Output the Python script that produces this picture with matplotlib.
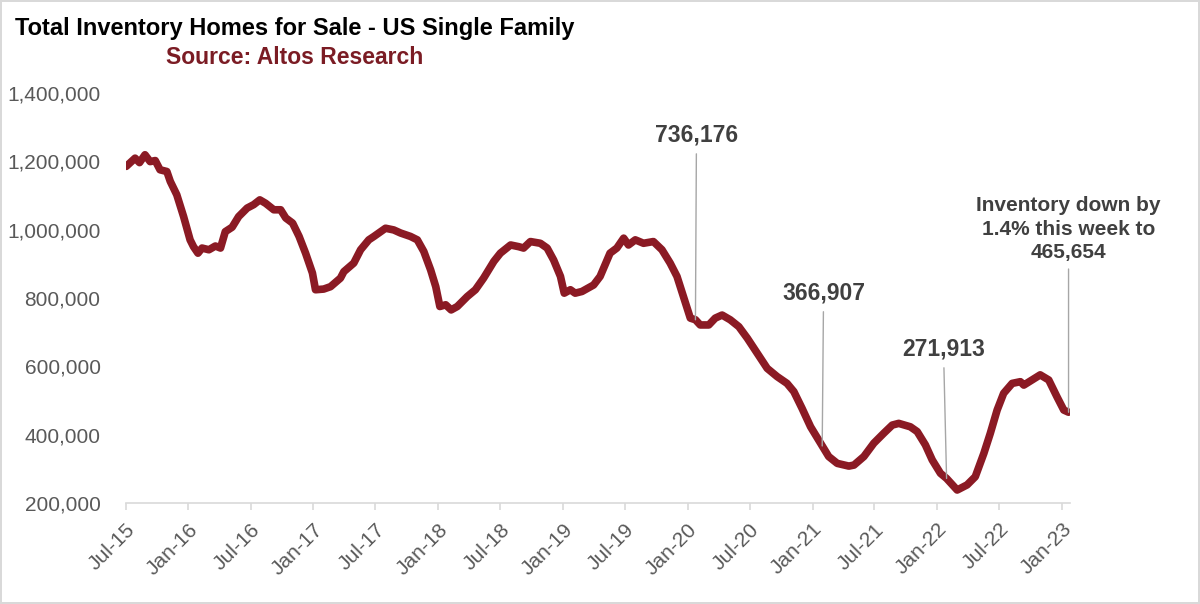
import matplotlib
matplotlib.use("Agg")
import matplotlib.pyplot as plt
import matplotlib.dates as mdates
from matplotlib.ticker import FuncFormatter
import pandas as pd

plt.rcParams["font.family"] = ["Liberation Sans", "DejaVu Sans"]

# weekly-ish inventory readings
dates = ["2015-07-03", "2015-07-29", "2015-08-11", "2015-08-27", "2015-09-11", "2015-09-26",
         "2015-10-10", "2015-10-30", "2015-11-09", "2015-11-28", "2015-12-18", "2016-01-06",
         "2016-01-16", "2016-01-29", "2016-02-10", "2016-03-01", "2016-03-20", "2016-04-04",
         "2016-04-18", "2016-05-08", "2016-05-27", "2016-06-21", "2016-07-10", "2016-07-28",
         "2016-08-14", "2016-09-07", "2016-09-27", "2016-10-12", "2016-11-01", "2016-11-20",
         "2016-12-09", "2016-12-29", "2017-01-07", "2017-01-31", "2017-02-20", "2017-03-21",
         "2017-03-31", "2017-04-29", "2017-05-19", "2017-06-12", "2017-06-27", "2017-07-31",
         "2017-08-24", "2017-09-13", "2017-10-12", "2017-11-01", "2017-11-20", "2017-12-10",
         "2017-12-25", "2018-01-06", "2018-01-23", "2018-02-08", "2018-02-26", "2018-03-27",
         "2018-04-20", "2018-05-14", "2018-06-13", "2018-07-02", "2018-08-01", "2018-08-25",
         "2018-09-08", "2018-09-28", "2018-10-27", "2018-11-16", "2018-12-05", "2018-12-25",
         "2019-01-05", "2019-01-23", "2019-02-06", "2019-02-26", "2019-04-01", "2019-04-20",
         "2019-05-19", "2019-06-08", "2019-06-28", "2019-07-12", "2019-08-01", "2019-08-25",
         "2019-09-23", "2019-10-18", "2019-11-11", "2019-12-01", "2019-12-20", "2020-01-09",
         "2020-01-24", "2020-02-07", "2020-03-03", "2020-03-22", "2020-04-11", "2020-05-05",
         "2020-05-30", "2020-06-24", "2020-07-23", "2020-08-21", "2020-09-19", "2020-10-18",
         "2020-11-07", "2020-12-01", "2020-12-26", "2021-01-29", "2021-02-17", "2021-03-14",
         "2021-04-17", "2021-05-02", "2021-05-31", "2021-06-29", "2021-07-28", "2021-08-22",
         "2021-09-10", "2021-10-14", "2021-11-03", "2021-11-27", "2021-12-17", "2022-01-10",
         "2022-01-28", "2022-02-28", "2022-03-29", "2022-04-22", "2022-05-17", "2022-06-05",
         "2022-06-25", "2022-07-14", "2022-08-08", "2022-09-01", "2022-09-11", "2022-10-05",
         "2022-10-29", "2022-11-23", "2022-12-17", "2023-01-06", "2023-01-20"]
inventory = [1185000, 1209000, 1196000, 1219000, 1199000, 1202000,
             1175000, 1170000, 1141000, 1102000, 1038000, 970000,
             950000, 931000, 946000, 941000, 952000, 946000,
             994000, 1007000, 1038000, 1063000, 1073000, 1087000,
             1077000, 1058000, 1058000, 1034000, 1019000, 980000,
             931000, 873000, 824000, 826000, 833000, 858000,
             877000, 902000, 941000, 970000, 980000, 1004000,
             999000, 990000, 980000, 970000, 936000, 882000,
             833000, 775000, 780000, 765000, 775000, 804000,
             824000, 858000, 907000, 931000, 955000, 950000,
             946000, 965000, 960000, 946000, 911000, 863000,
             814000, 824000, 814000, 819000, 838000, 863000,
             931000, 946000, 975000, 955000, 970000, 960000,
             965000, 941000, 902000, 863000, 804000, 741000,
             736176, 721000, 721000, 741000, 750000, 736000,
             716000, 682000, 638000, 594000, 570000, 550000,
             526000, 477000, 423000, 366907, 336000, 316000,
             308000, 311000, 336000, 375000, 404000, 428000,
             433000, 423000, 409000, 370000, 326000, 287000,
             271913, 238000, 253000, 277000, 345000, 404000,
             472000, 521000, 550000, 555000, 545000, 560000,
             575000, 560000, 511000, 472000, 465654]

# callouts: label, point date, point value, text date, text value, size
notes = [
    ("736,176", "2020-01-24", 736176, "2020-01-27", 1242000, 16.5),
    ("366,907", "2021-01-29", 366907, "2021-02-02", 780000, 16.5),
    ("271,913", "2022-01-28", 271913, "2022-01-19", 616000, 16.5),
    ("Inventory down by\n1.4% this week to\n465,654", "2023-01-20", 465654, "2023-01-20", 905000, 15),
]

red = "#8B1A24"
grey_txt = "#595959"

x = pd.to_datetime(dates)

fig = plt.figure(figsize=(12, 6.04), dpi=100, edgecolor="#d9d9d9", linewidth=1.5)
ax = fig.add_axes([0.1046, 0.1672, 0.787, 0.679])

ax.plot(x, inventory, color=red, lw=5.5, solid_joinstyle="round", solid_capstyle="round")

ax.set_ylim(200000, 1400000)
ax.set_yticks(range(200000, 1400001, 200000))
ax.yaxis.set_major_formatter(FuncFormatter(lambda v, p: f"{int(v):,}"))
ax.set_xlim(pd.Timestamp("2015-07-01"), pd.Timestamp("2023-01-24"))
ax.xaxis.set_major_locator(mdates.MonthLocator(bymonth=[1, 7]))
ax.xaxis.set_major_formatter(mdates.DateFormatter("%b-%y"))

for s in ["top", "right", "left"]:
    ax.spines[s].set_visible(False)
ax.spines["bottom"].set_color("#d9d9d9")
ax.spines["bottom"].set_linewidth(1.2)

ax.tick_params(axis="y", length=0, pad=18, labelsize=15, labelcolor=grey_txt)
ax.tick_params(axis="x", length=5, width=1.2, color="#d9d9d9", pad=7,
               labelsize=15, labelcolor=grey_txt)
for lbl in ax.get_xticklabels():
    lbl.set_rotation(45)
    lbl.set_ha("right")
    lbl.set_va("top")
    lbl.set_rotation_mode("anchor")

for txt, pd_, pv, td, tv, fs in notes:
    ax.annotate(txt, xy=(pd.Timestamp(pd_), pv), xytext=(pd.Timestamp(td), tv),
                textcoords="data", ha="center", va="bottom", multialignment="center",
                fontsize=fs, fontweight="bold", color="#404040", annotation_clip=False,
                linespacing=1.3,
                arrowprops=dict(arrowstyle="-", color="#a6a6a6", lw=1, shrinkA=3, shrinkB=0))

fig.text(295 / 1200, 1 - 28 / 604, "Total Inventory Homes for Sale - US Single Family",
         ha="center", va="center", fontsize=17, fontweight="bold", color="black")
fig.text(295 / 1200, 1 - 57 / 604, "Source: Altos Research",
         ha="center", va="center", fontsize=16.5, fontweight="bold", color="#7B1C24")

fig.savefig("out.png", dpi=100, edgecolor=fig.get_edgecolor())
